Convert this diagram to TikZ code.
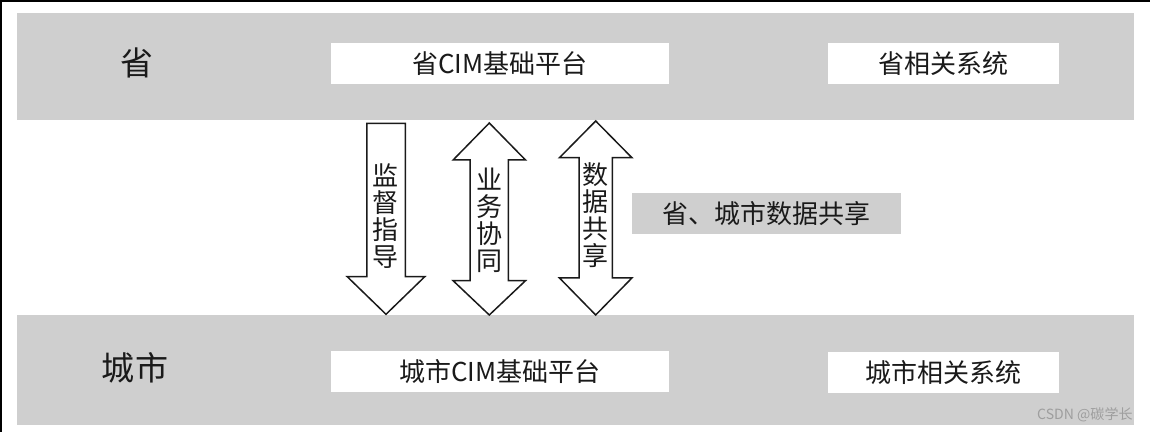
\documentclass[tikz,border=0pt]{standalone}
\usepackage{fontspec}
\setmainfont{Noto Sans CJK SC}
\definecolor{bandgray}{HTML}{CFCFCF}
\definecolor{inkblack}{HTML}{1A1A1A}
\definecolor{markgray}{HTML}{9E9E9E}

\begin{document}
\begin{tikzpicture}[
    band/.style={fill=bandgray, draw=none},
    whitebox/.style={fill=white, draw=none, minimum height=0.82cm, inner sep=0pt, text=inkblack, font=\fontsize{14.8pt}{14.8pt}\selectfont},
    levellabel/.style={text=inkblack, inner sep=0pt, font=\fontsize{18.8pt}{18.8pt}\selectfont},
    blockarrow/.style={draw=inkblack, line width=0.85pt, fill=white, line join=miter},
    stacklabel/.style={text=inkblack, align=center, inner sep=0pt, font=\fontsize{14.8pt}{15.4pt}\selectfont}
]
\useasboundingbox (0,0) rectangle (23,8.64);
\fill[white] (0,0) rectangle (23,8.64);
\draw[black, line width=0.04cm] (0.02,0) -- (0.02,8.62) -- (23,8.62);

% two levels
\draw[band] (0.334,6.24) rectangle (22.68,8.38);
\draw[band] (0.334,0.14) rectangle (22.68,2.34);

\node[levellabel] (sheng) at (2.74,7.38) {省};
\node[whitebox, minimum width=6.772cm] (shengCIM) at (10.0,7.373) {省CIM基础平台};
\node[whitebox, minimum width=4.62cm] (shengSys) at (18.876,7.373) {省相关系统};

\node[levellabel] (city) at (2.7,1.28) {城市};
\node[whitebox, minimum width=6.772cm] (cityCIM) at (10.0,1.2) {城市CIM基础平台};
\node[whitebox, minimum width=4.62cm] (citySys) at (18.876,1.196) {城市相关系统};

% block arrows
\draw[blockarrow] (7.335,6.174) -- (8.105,6.174) -- (8.105,3.106) -- (8.495,3.106) -- (7.72,2.354) -- (6.945,3.106) -- (7.335,3.106) -- cycle;
\draw[blockarrow] (9.786,6.18) -- (10.51,5.44) -- (10.169,5.44) -- (10.169,3.026) -- (10.51,3.026) -- (9.786,2.34) -- (9.062,3.026) -- (9.403,3.026) -- (9.403,5.44) -- (9.062,5.44) -- cycle;
\draw[blockarrow] (11.914,6.22) -- (12.638,5.486) -- (12.248,5.486) -- (12.248,3.08) -- (12.638,3.08) -- (11.914,2.34) -- (11.19,3.08) -- (11.58,3.08) -- (11.58,5.486) -- (11.19,5.486) -- cycle;

\node[stacklabel] (guide) at (7.714,4.32) {监\\督\\指\\导};
\node[stacklabel] (cooperate) at (9.786,4.24) {业\\务\\协\\同};
\node[stacklabel] (datashare) at (11.914,4.33) {数\\据\\共\\享};

\node[fill=bandgray, minimum width=5.38cm, minimum height=0.814cm, inner sep=0pt, text=inkblack, font=\fontsize{14.8pt}{14.8pt}\selectfont] (share) at (15.324,4.367) {省、城市数据共享};

\node[text=markgray, anchor=east, inner sep=0pt, font=\fontsize{8pt}{8pt}\selectfont] (mark) at (22.66,0.34) {CSDN @碳学长};

\end{tikzpicture}
\end{document}
